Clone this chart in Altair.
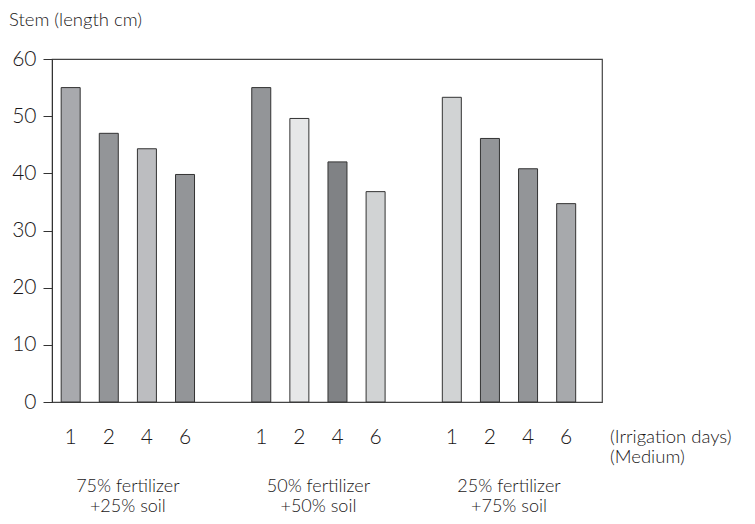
import altair as alt
import pandas as pd

# ---- data ----
groups = ["75% fertilizer\n+25% soil", "50% fertilizer\n+50% soil", "25% fertilizer\n+75% soil"]
days = ["1", "2", "4", "6"]
values_g1 = [55, 47, 44.3, 39.8]
values_g2 = [55, 49.6, 42, 36.8]
values_g3 = [53.3, 46.1, 40.8, 34.7]
bar_fills = ["#a8a9ad", "#939598", "#bcbdc0", "#939598",
             "#939598", "#e6e7e8", "#808285", "#d1d3d4",
             "#d1d3d4", "#939598", "#939598", "#a7a9ac"]
side_texts = ["(Irrigation days)", "(Medium)"]
y_title = "Stem (length cm)"

rows = []
k = 0
for gi, vals in enumerate([values_g1, values_g2, values_g3]):
    for di, (d, v) in enumerate(zip(days, vals)):
        rows.append({"group": groups[gi], "day": d, "value": v,
                     "pos": gi * 5 + di, "fill": bar_fills[k]})
        k += 1
df = pd.DataFrame(rows)
gdf = pd.DataFrame({"group": groups, "pos": [gi * 5 + 1.5 for gi in range(len(groups))]})

FONT = "Lato"
WT = 300
INK = "#1a1718"
W, H = 550, 343

xscale = alt.Scale(domain=[-0.49, 13.94], nice=False, zero=False, padding=0)
x_enc = alt.X("pos:Q", scale=xscale, axis=None)

bars = alt.Chart(df).mark_bar(size=19, stroke="#333333", strokeWidth=1).encode(
    x=x_enc,
    y=alt.Y("value:Q", scale=alt.Scale(domain=[0, 60], nice=False),
            axis=alt.Axis(values=[0, 10, 20, 30, 40, 50, 60], title=None, grid=False,
                          tickSize=9, tickColor="#333333", domainColor="#333333",
                          labelFontSize=21, labelColor=INK, labelFont=FONT,
                          labelFontWeight=WT, labelPadding=7)),
    fill=alt.Fill("fill:N", scale=None),
)

day_labels = alt.Chart(df).mark_text(fontSize=21, font=FONT, fontWeight=WT, color=INK,
                                     baseline="middle", align="center").encode(
    x=x_enc, y=alt.value(H + 36), text="day:N")

group_labels = alt.Chart(gdf).mark_text(fontSize=18, font=FONT, fontWeight=WT, color=INK,
                                        baseline="middle", align="center",
                                        lineBreak="\n", lineHeight=20).encode(
    x=x_enc, y=alt.value(H + 85), text="group:N")

side = pd.DataFrame({"t": side_texts, "dy": [0, 19]})
side_label = alt.Chart(side).mark_text(fontSize=18.5, font=FONT, fontWeight=WT, color=INK,
                                       baseline="middle", align="left").encode(
    x=alt.value(558),
    y=alt.Y("dy:Q", scale=alt.Scale(domain=[0, 19], range=[H + 35, H + 55]), axis=None),
    text="t:N")

ttl = pd.DataFrame({"t": [y_title]})
title_label = alt.Chart(ttl).mark_text(fontSize=18.5, font=FONT, fontWeight=WT, color=INK,
                                       baseline="middle", align="left").encode(
    x=alt.value(-43), y=alt.value(-39), text="t:N")

chart = alt.layer(bars, day_labels, group_labels, side_label, title_label).resolve_scale(
    y="independent"
).properties(
    width=W, height=H,
    autosize=alt.AutoSizeParams(type="none"),
    padding={"left": 44, "top": 51, "right": 145, "bottom": 114},
).configure_view(stroke="#444444", strokeWidth=1.2)

chart.save("out.html", embed_options={"renderer": "svg", "actions": False})
